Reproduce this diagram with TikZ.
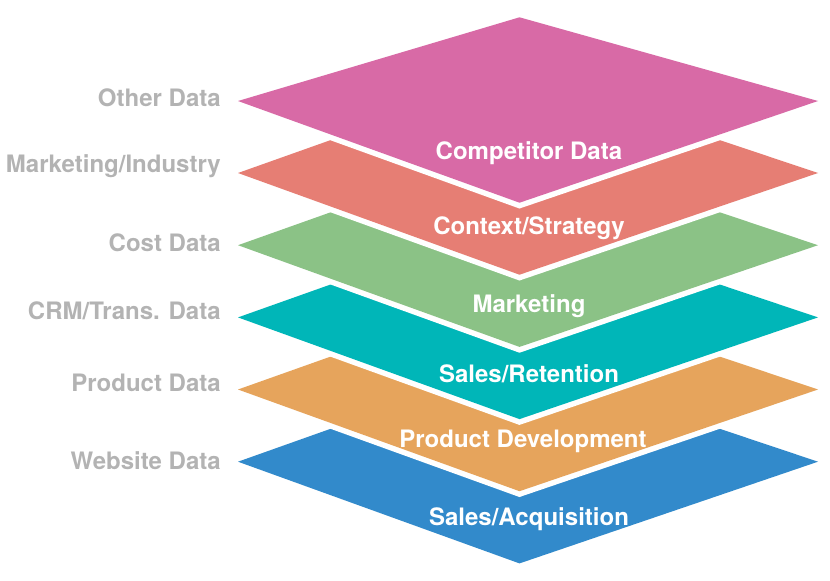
\documentclass[tikz,border=0pt]{standalone}
\usepackage{fontspec}
\setmainfont{TeX Gyre Heros}
\definecolor{cpink}{HTML}{D86AA6}
\definecolor{csalmon}{HTML}{E67E74}
\definecolor{cgreen}{HTML}{8BC286}
\definecolor{cteal}{HTML}{00B6B8}
\definecolor{corange}{HTML}{E6A45C}
\definecolor{cblue}{HTML}{328ACB}
\definecolor{cgray}{HTML}{B3B3B3}
\begin{document}
\begin{tikzpicture}[x=1pt,y=-1pt,
  layer/.style={fill=#1, preaction={draw=white, line width=11pt, line join=miter}},
  inlabel/.style={text=white, font=\bfseries\fontsize{24}{28}\selectfont, anchor=base, inner sep=0pt},
  sidelabel/.style={text=cgray, font=\bfseries\fontsize{24}{28}\selectfont, anchor=base east, inner sep=0pt}]
\useasboundingbox (0,0) rectangle (830,581);
% layers, bottom first
\path[layer=cblue]   (238,461.7) -- (519.5,361.7) -- (818,461.7) -- (519.5,563.4) -- cycle;
\path[layer=corange] (238,389.5) -- (519.5,289.5) -- (818,389.5) -- (519.5,491.2) -- cycle;
\path[layer=cteal]   (238,317.4) -- (519.5,217.4) -- (818,317.4) -- (519.5,419.1) -- cycle;
\path[layer=cgreen]  (238,245.2) -- (519.5,145.2) -- (818,245.2) -- (519.5,346.9) -- cycle;
\path[layer=csalmon] (238,173.0) -- (519.5,73.0) -- (818,173.0) -- (519.5,274.7) -- cycle;
\path[layer=cpink]   (238,101.0) -- (519.5,17.3) -- (818,101.0) -- (519.5,202.7) -- cycle;
% layer labels
\node[inlabel] (l1) at (529,159.4) {Competitor Data};
\node[inlabel] (l2) at (529,234.6) {Context/Strategy};
\node[inlabel] (l3) at (529,312.6) {Marketing};
\node[inlabel] (l4) at (529,382.6) {Sales/Retention};
\node[inlabel] (l5) at (523,447.4) {Product Development};
\node[inlabel] (l6) at (529,525.6) {Sales/Acquisition};
% side labels
\node[sidelabel] (s1) at (221,106.7) {Other Data};
\node[sidelabel] (s2) at (221,172.7) {Marketing/Industry};
\node[sidelabel] (s3) at (221,251.0) {Cost Data};
\node[sidelabel] (s4) at (221,319.0) {CRM/Trans. Data};
\node[sidelabel] (s5) at (221,391.7) {Product Data};
\node[sidelabel] (s6) at (221,469.0) {Website Data};
\end{tikzpicture}
\end{document}
